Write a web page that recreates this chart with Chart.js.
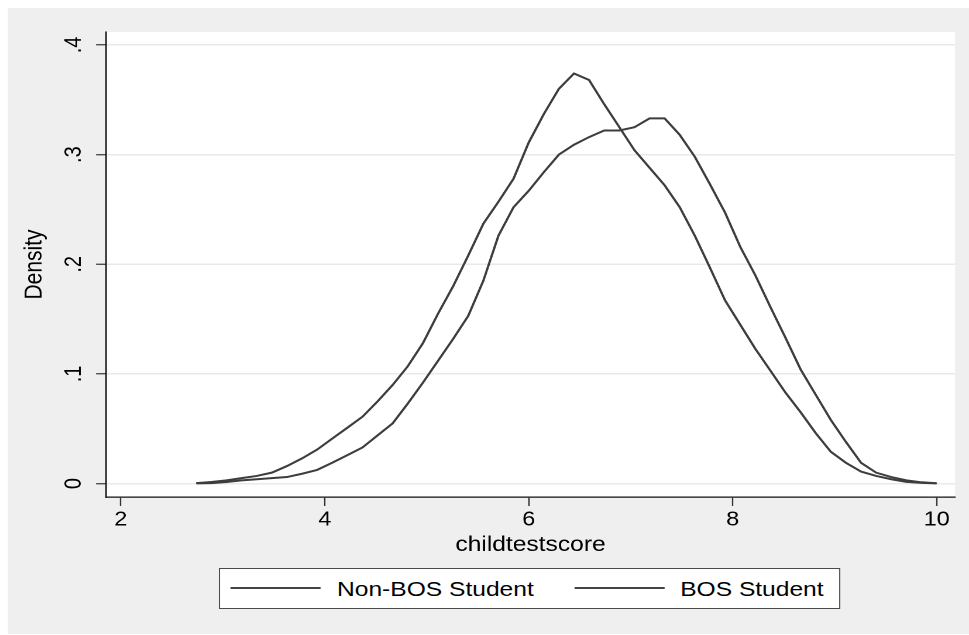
<!DOCTYPE html>
<html>
<head>
<meta charset="utf-8">
<title>childtestscore density</title>
<script src="https://cdn.jsdelivr.net/npm/chart.js@4.4.1/dist/chart.umd.min.js"></script>
<style>
  html, body { margin: 0; padding: 0; background: #fff; overflow: hidden; }
  /* the graph is laid out on a narrower stage and widened horizontally */
  #stage { position: absolute; left: 0; top: 0; width: 828px; height: 635px;
           transform: scaleX(1.17029); transform-origin: 0 0; }
  #plot { position: absolute; left: 0; top: 0; width: 828px; height: 635px; }
  #legend { position: absolute; left: 187.1px; top: 568px; width: 530.7px; height: 41px;
            box-sizing: border-box; border: 1px solid #4a4a4a; background: #fff;
            font-family: "Liberation Sans", Arial, sans-serif; font-size: 21px; color: #000; }
  #legend .key { position: absolute; top: 18.3px; width: 77px; height: 0; border-top: 2px solid #444; }
  #legend .lab { position: absolute; top: 7.75px; line-height: 24px; white-space: nowrap; }
</style>
</head>
<body>
<div id="stage">
  <canvas id="plot" width="828" height="635"></canvas>
  <div id="legend"></div>
</div>
<script>
// Kernel density estimates of the child test score, evaluated on a 50-point grid
const scoreGrid = [
  2.740, 2.888, 3.036, 3.184, 3.333, 3.481, 3.629, 3.777, 3.925, 4.073,
  4.222, 4.370, 4.518, 4.666, 4.814, 4.962, 5.111, 5.259, 5.407, 5.555,
  5.703, 5.851, 6.000, 6.148, 6.296, 6.444, 6.592, 6.740, 6.889, 7.037,
  7.185, 7.333, 7.481, 7.629, 7.777, 7.926, 8.074, 8.222, 8.370, 8.518,
  8.667, 8.815, 8.963, 9.111, 9.259, 9.407, 9.556, 9.704, 9.852, 10.000
];
const nonBosDensity = [
  0.0005, 0.0015, 0.003, 0.005, 0.007, 0.010, 0.016, 0.023, 0.031, 0.041,
  0.051, 0.061, 0.075, 0.090, 0.107, 0.128, 0.155, 0.180, 0.208, 0.237,
  0.257, 0.278, 0.311, 0.337, 0.360, 0.374, 0.368, 0.346, 0.325, 0.304,
  0.288, 0.272, 0.252, 0.226, 0.197, 0.167, 0.145, 0.123, 0.103, 0.083,
  0.065, 0.046, 0.029, 0.019, 0.011, 0.007, 0.004, 0.0016, 0.0007, 0.0002
];
const bosDensity = [
  0.0002, 0.0005, 0.0015, 0.003, 0.004, 0.005, 0.006, 0.009, 0.0125, 0.019,
  0.026, 0.033, 0.044, 0.055, 0.073, 0.092, 0.112, 0.132, 0.153, 0.185,
  0.226, 0.252, 0.267, 0.284, 0.300, 0.309, 0.316, 0.322, 0.322, 0.325,
  0.333, 0.333, 0.318, 0.298, 0.273, 0.247, 0.216, 0.190, 0.161, 0.133,
  0.104, 0.081, 0.058, 0.038, 0.019, 0.010, 0.006, 0.003, 0.0012, 0.0003
];
const seriesNames = ['Non-BOS Student', 'BOS Student'];
const xTicks = [2, 4, 6, 8, 10];
const yTicks = [0, 0.1, 0.2, 0.3, 0.4];
const yTickLabels = ['0', '.1', '.2', '.3', '.4'];
const xTitle = 'childtestscore';
const yTitle = 'Density';

const SX = 1.17029;             // horizontal widening of the stage
const FONT = '"Liberation Sans", Arial, sans-serif';
const LINE = '#3d3d3d';

// grey page with a white plot region
const backdrop = {
  id: 'backdrop',
  beforeDraw(chart) {
    const { ctx, chartArea: a } = chart;
    ctx.save();
    ctx.fillStyle = '#efefef';
    ctx.fillRect(8 / SX, 8, chart.width, 626);
    ctx.fillStyle = '#ffffff';
    ctx.fillRect(a.left, a.top, a.right - a.left, a.bottom - a.top);
    ctx.restore();
  }
};

const toPoints = ys => scoreGrid.map((x, i) => ({ x, y: ys[i] }));

new Chart(document.getElementById('plot'), {
  type: 'line',
  data: {
    datasets: [
      { label: seriesNames[0], data: toPoints(nonBosDensity) },
      { label: seriesNames[1], data: toPoints(bosDensity) }
    ].map(d => Object.assign(d, {
      borderColor: LINE, borderWidth: 2, pointRadius: 0, tension: 0, fill: false
    }))
  },
  options: {
    responsive: false,
    animation: false,
    devicePixelRatio: 2,
    events: [],
    layout: { padding: { left: 0, top: 32, right: 12, bottom: 0 } },
    plugins: { legend: { display: false }, tooltip: { enabled: false } },
    scales: {
      x: {
        type: 'linear', min: 1.855, max: 10.18,
        afterBuildTicks: s => { s.ticks = xTicks.map(v => ({ value: v })); },
        afterFit: s => { s.height = 138; },
        grid: { drawOnChartArea: false, drawTicks: true, tickLength: 9, tickColor: '#333', tickWidth: 1.2 },
        border: { display: true, color: '#111', width: 1.3 },
        ticks: { color: '#000', font: { family: FONT, size: 20 }, padding: 2, maxRotation: 0, autoSkip: false },
        title: { display: true, text: xTitle, color: '#000', font: { family: FONT, size: 21 },
                 padding: { top: 0, bottom: 77 } }
      },
      y: {
        type: 'linear', min: -0.0122, max: 0.4118,
        afterBuildTicks: s => { s.ticks = yTicks.map(v => ({ value: v })); },
        afterFit: s => { s.width = 90.6; },
        grid: { color: '#e9e9e9', lineWidth: 1.5, drawTicks: true, tickLength: 8.5,
                tickColor: '#333', tickWidth: 1.2 },
        border: { display: true, color: '#111', width: 1.3 },
        ticks: { color: '#000', font: { family: FONT, size: 20 }, padding: 10.5,
                 minRotation: 90, maxRotation: 90, crossAlign: 'center', autoSkip: false,
                 callback: v => yTickLabels[yTicks.indexOf(v)] },
        title: { display: true, text: yTitle, color: '#000', font: { family: FONT, size: 21 },
                 padding: { top: 17.3, bottom: 0 } }
      }
    }
  },
  plugins: [backdrop]
});

// legend box below the axes
const legend = document.getElementById('legend');
const keyLeft = [9.3, 303.4];
const labLeft = [99.9, 393.1];
seriesNames.forEach((name, i) => {
  const key = document.createElement('div');
  key.className = 'key';
  key.style.left = keyLeft[i] + 'px';
  const lab = document.createElement('div');
  lab.className = 'lab';
  lab.style.left = labLeft[i] + 'px';
  lab.textContent = name;
  legend.appendChild(key);
  legend.appendChild(lab);
});
</script>
</body>
</html>
